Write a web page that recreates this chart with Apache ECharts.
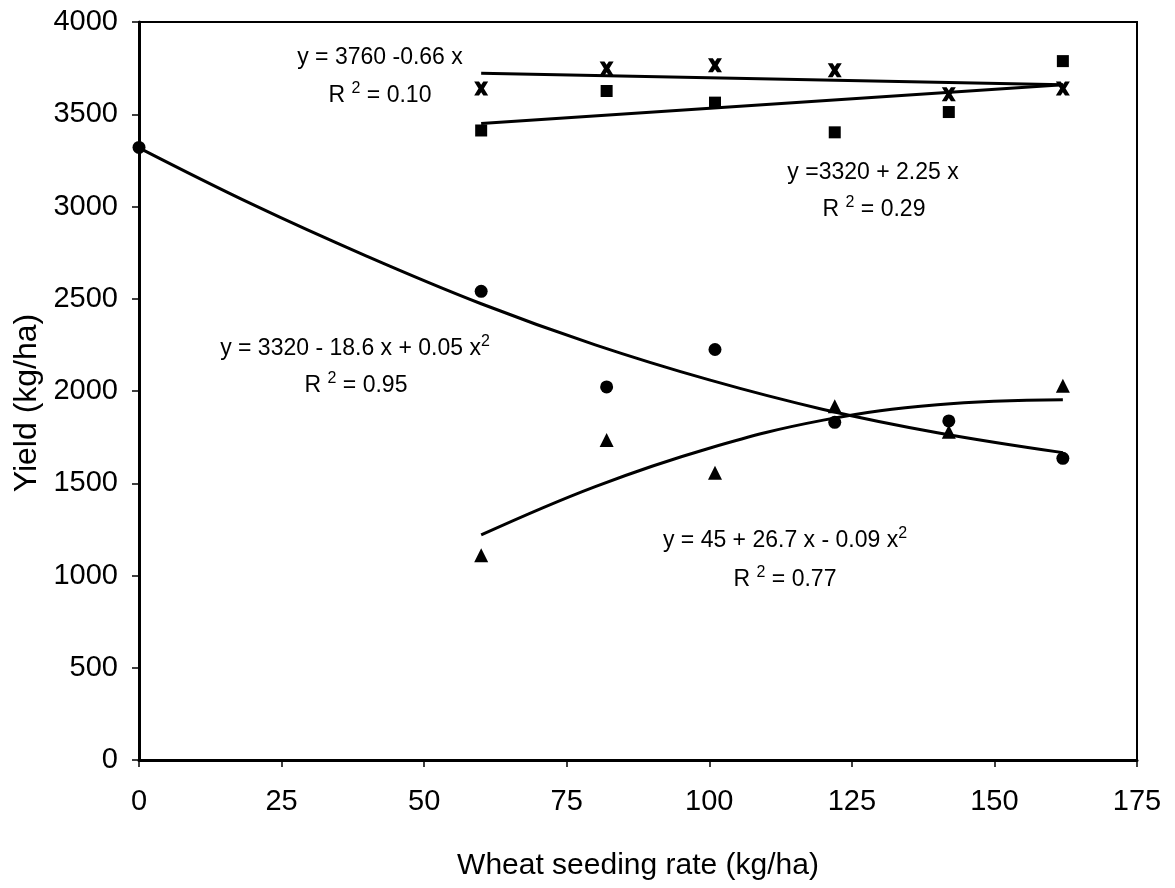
<!DOCTYPE html>
<html>
<head>
<meta charset="utf-8">
<script src="https://cdn.jsdelivr.net/npm/echarts@6/dist/echarts.min.js"></script>
<style>
  html, body { margin: 0; padding: 0; background: #fff; }
  #chart { width: 1175px; height: 888px; }
</style>
</head>
<body>
<div id="chart"></div>
<script>
// seeding rates (kg/ha)
const rates = [60, 82, 101, 122, 142, 162]

// observed yields (kg/ha)
const circleX = [0, 60, 82, 101, 122, 142, 162]
const circleY = [3320, 2540, 2022, 2225, 1830, 1838, 1635]
const triangleY = [1110, 1735, 1557, 1918, 1779, 2028]
const squareY = [3412, 3626, 3563, 3402, 3512, 3788]
const crossY = [3640, 3748, 3765, 3738, 3608, 3640]

// fitted trend lines
const circleFitX = [0, 20, 40, 60, 80, 100, 120, 140, 162]
const circleFitY = [3318, 3010, 2730, 2473, 2250, 2060, 1900, 1774, 1666]
const triangleFitX = [60, 80, 100, 120, 140, 162]
const triangleFitY = [1220, 1482, 1690, 1842, 1925, 1952]
const squareFitX = [60, 162]
const squareFitY = [3450, 3660]
const crossFitX = [60, 162]
const crossFitY = [3722, 3660]

// equation labels
const eqCross = ['y = 3760 -0.66 x', '0.10']
const eqSquare = ['y =3320 + 2.25 x', '0.29']
const eqCircle = ['y = 3320 - 18.6 x + 0.05 x', '0.95']
const eqTriangle = ['y = 45 + 26.7 x - 0.09 x', '0.77']

const zip = (xs, ys) => xs.map((x, i) => [x, ys[i]])

const font = 'Liberation Sans, Arial, sans-serif'
const crossPath = 'path://M0,0 L4.5,0 L6.5,3 L8.5,0 L13,0 L9,6.5 L13,13 L8.5,13 L6.5,10 L4.5,13 L0,13 L4,6.5 Z'

const rich = {
    a: { fontSize: 23, fontFamily: font, color: '#000', lineHeight: 26 },
    s: { fontSize: 16, fontFamily: font, color: '#000', padding: [0, 0, 14, 0] }
}

const label = (x, y, text) => ({
    type: 'text',
    x: x,
    y: y,
    style: {
        text: text,
        rich: rich,
        align: 'center',
        verticalAlign: 'middle'
    }
})

const scatter = (data, symbol, size) => ({
    type: 'scatter',
    data: data,
    symbol: symbol,
    symbolSize: size,
    itemStyle: { color: '#000', opacity: 1 },
    z: 3
})

const fit = (data) => ({
    type: 'line',
    data: data,
    smooth: 0.4,
    showSymbol: false,
    lineStyle: { color: '#000', width: 3 },
    z: 2
})

let myChart = echarts.init(document.getElementById('chart'))
let option = {
    animation: false,
    backgroundColor: '#fff',
    grid: {
        left: 139, right: 38, top: 22, bottom: 128,
        containLabel: false,
        outerBoundsMode: 'none',
        show: true,
        borderColor: '#000',
        borderWidth: 2
    },
    xAxis: {
        type: 'value',
        min: 0, max: 175, interval: 25,
        name: 'Wheat seeding rate (kg/ha)',
        nameLocation: 'middle',
        nameGap: 91,
        nameTextStyle: { fontSize: 30, fontFamily: font, color: '#000' },
        axisLine: { show: true, lineStyle: { color: '#000', width: 3 } },
        axisTick: { show: true, length: 7, lineStyle: { color: '#000', width: 1.5 } },
        axisLabel: { fontSize: 29, fontFamily: font, color: '#000', margin: 27 },
        splitLine: { show: false }
    },
    yAxis: {
        type: 'value',
        min: 0, max: 4000, interval: 500,
        axisLine: { show: true, lineStyle: { color: '#000', width: 3 } },
        axisTick: { show: true, length: 7, lineStyle: { color: '#000', width: 1.5 } },
        axisLabel: {
            fontSize: 29, fontFamily: font, color: '#000', margin: 21,
            formatter: v => String(v)
        },
        splitLine: { show: false }
    },
    graphic: [
        {
            type: 'text',
            x: 27, y: 403,
            rotation: Math.PI / 2,
            style: {
                text: 'Yield (kg/ha)',
                fontSize: 32, fontFamily: font, fill: '#000',
                align: 'center', verticalAlign: 'middle'
            }
        },
        label(380, 58, '{a|' + eqCross[0] + '}'),
        label(380, 96, '{a|R }{s|2}{a| = ' + eqCross[1] + '}'),
        label(873, 173, '{a|' + eqSquare[0] + '}'),
        label(874, 210, '{a|R }{s|2}{a| = ' + eqSquare[1] + '}'),
        label(355, 349, '{a|' + eqCircle[0] + '}{s|2}'),
        label(356, 386, '{a|R }{s|2}{a| = ' + eqCircle[1] + '}'),
        label(785, 541, '{a|' + eqTriangle[0] + '}{s|2}'),
        label(785, 580, '{a|R }{s|2}{a| = ' + eqTriangle[1] + '}')
    ],
    series: [
        fit(zip(circleFitX, circleFitY)),
        fit(zip(triangleFitX, triangleFitY)),
        fit(zip(squareFitX, squareFitY)),
        fit(zip(crossFitX, crossFitY)),
        scatter(zip(circleX, circleY), 'circle', 13),
        scatter(zip(rates, triangleY), 'triangle', 14),
        scatter(zip(rates, squareY), 'rect', 12),
        scatter(zip(rates, crossY), crossPath, 14)
    ]
}
myChart.setOption(option)
</script>
</body>
</html>
